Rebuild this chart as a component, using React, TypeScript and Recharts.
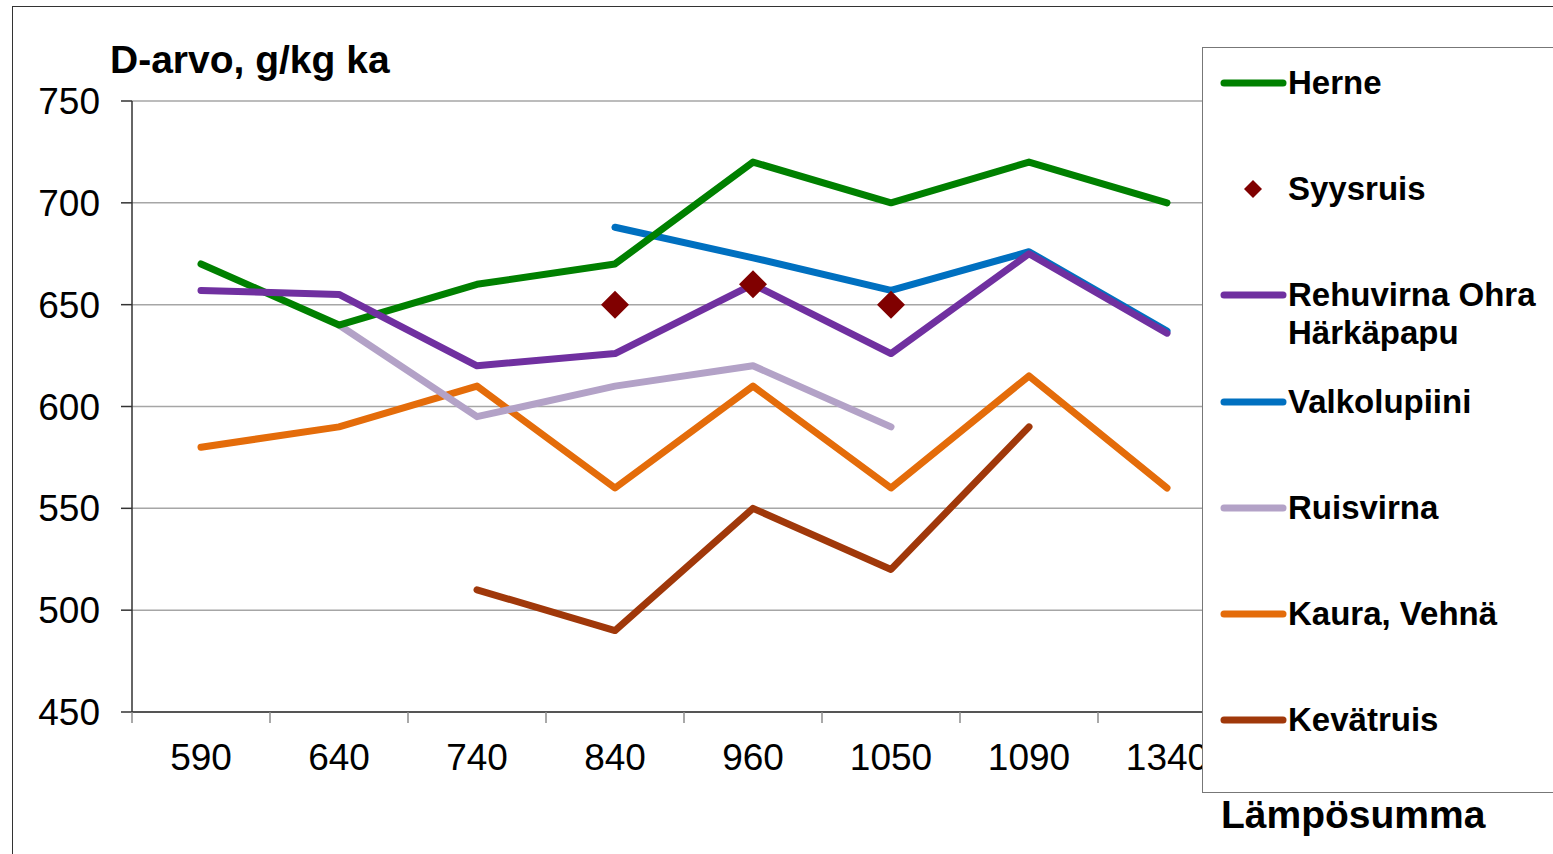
import React from 'react'
import { LineChart, Line, XAxis, YAxis, CartesianGrid } from 'recharts'

// Lämpösumma categories and D-arvo values
const categories = ['590', '640', '740', '840', '960', '1050', '1090', '1340']
const herne = [670, 640, 660, 670, 720, 700, 720, 700]
const syysruis = [null, null, null, 650, 660, 650, null, null]
const rehuvirna = [657, 655, 620, 626, 660, 626, 675, 636]
const valkolupiini = [null, null, null, 688, 673, 657, 676, 637]
const ruisvirna = [null, 640, 595, 610, 620, 590, null, null]
const kaura = [580, 590, 610, 560, 610, 560, 615, 560]
const kevatruis = [null, null, 510, 490, 550, 520, 590, null]
const yTicks = [450, 500, 550, 600, 650, 700, 750]

const series = [
  { key: 'herne', name: 'Herne', color: '#008000', values: herne, marker: false },
  { key: 'syysruis', name: 'Syysruis', color: '#800000', values: syysruis, marker: true },
  { key: 'rehuvirna', name: 'Rehuvirna Ohra Härkäpapu', color: '#7030a0', values: rehuvirna, marker: false },
  { key: 'valkolupiini', name: 'Valkolupiini', color: '#0070c0', values: valkolupiini, marker: false },
  { key: 'ruisvirna', name: 'Ruisvirna', color: '#b3a2c7', values: ruisvirna, marker: false },
  { key: 'kaura', name: 'Kaura, Vehnä', color: '#e46c0a', values: kaura, marker: false },
  { key: 'kevatruis', name: 'Kevätruis', color: '#a0380a', values: kevatruis, marker: false },
]

// drawing order (back to front)
const drawOrder = ['kevatruis', 'kaura', 'ruisvirna', 'valkolupiini', 'herne', 'rehuvirna', 'syysruis']

const data = categories.map((c, i) => {
  const row: any = { i, cat: c }
  series.forEach((s) => (row[s.key] = s.values[i]))
  return row
})

// tick values: category centres get labels, half steps get the tick marks
const xTicks: number[] = []
for (let i = 0; i <= categories.length; i++) {
  xTicks.push(i - 0.5)
  if (i < categories.length) xTicks.push(i)
}

const FONT = '"Liberation Sans", Arial, sans-serif'

const XTick = (props: any) => {
  const { x, y, payload } = props
  const v = payload.value
  if (Number.isInteger(v)) {
    return (
      <text x={x} y={y + 58} textAnchor="middle" fontSize={37} fontFamily={FONT} fill="#000">
        {categories[v]}
      </text>
    )
  }
  return <line x1={x} x2={x} y1={y} y2={y + 11} stroke="#8c8c8c" strokeWidth={1.5} />
}

const Diamond = (props: any) => {
  const { cx, cy, value } = props
  if (value == null || cx == null || cy == null) return <g />
  const r = 14
  return <path d={`M${cx},${cy - r}L${cx + r},${cy}L${cx},${cy + r}L${cx - r},${cy}Z`} fill="#800000" />
}

export default function App() {
  return (
    <div style={{ position: 'absolute', left: 0, top: 0, width: 1553, height: 854, background: '#fff', overflow: 'hidden' }}>
      <div
        style={{
          position: 'absolute',
          left: 12,
          top: 6,
          width: 1600,
          height: 900,
          borderLeft: '1.5px solid #333',
          borderTop: '1.5px solid #333',
        }}
      />
      <div style={{ position: 'absolute', left: 0, top: 0 }}>
        <LineChart width={1553} height={854} data={data} margin={{ top: 101, right: 317, bottom: 82, left: 0 }}>
          <CartesianGrid vertical={false} stroke="#a6a6a6" strokeWidth={1.5} />
          <XAxis
            dataKey="i"
            type="number"
            domain={[-0.5, categories.length - 0.5]}
            ticks={xTicks}
            interval={0}
            height={60}
            tickSize={0}
            tickMargin={0}
            tickLine={false}
            tick={<XTick />}
            stroke="#333"
            strokeWidth={1.5}
          />
          <YAxis
            type="number"
            domain={[450, 750]}
            ticks={yTicks}
            interval={0}
            width={132}
            tickSize={11}
            tickMargin={21}
            stroke="#333"
            strokeWidth={1.5}
            tick={{ fontSize: 37, fontFamily: FONT, fill: '#000' }}
          />
          {drawOrder.map((k) => {
            const s = series.find((x) => x.key === k)!
            return s.marker ? (
              <Line
                key={s.key}
                dataKey={s.key}
                stroke="none"
                dot={<Diamond />}
                activeDot={false}
                isAnimationActive={false}
              />
            ) : (
              <Line
                key={s.key}
                dataKey={s.key}
                stroke={s.color}
                strokeWidth={7}
                strokeLinejoin="round"
                strokeLinecap="round"
                dot={false}
                activeDot={false}
                isAnimationActive={false}
              />
            )
          })}
        </LineChart>
      </div>
      <div
        style={{
          position: 'absolute',
          left: 110,
          top: 37,
          fontFamily: FONT,
          fontWeight: 'bold',
          fontSize: 39,
          lineHeight: '46px',
          color: '#000',
          whiteSpace: 'nowrap',
        }}
      >
        D-arvo, g/kg ka
      </div>
      <div
        style={{
          position: 'absolute',
          left: 1202,
          top: 47,
          width: 400,
          height: 744,
          border: '1.5px solid #777',
          background: '#fff',
        }}
      />
      {series.map((s, i) => {
        const cy = 83 + i * 106.2
        return (
          <div key={s.key} style={{ position: 'absolute', left: 1220, top: cy - 19, height: 38 }}>
            <svg width={68} height={38} style={{ position: 'absolute', left: 0, top: 0 }}>
              {s.marker ? (
                <path d="M33,10L42,19L33,28L24,19Z" fill={s.color} />
              ) : (
                <line x1={4} x2={63} y1={19} y2={19} stroke={s.color} strokeWidth={7} strokeLinecap="round" />
              )}
            </svg>
            <div
              style={{
                position: 'absolute',
                left: 68,
                top: 0,
                width: 265,
                fontFamily: FONT,
                fontWeight: 'bold',
                fontSize: 33,
                lineHeight: '38px',
                color: '#000',
              }}
            >
              {s.name}
            </div>
          </div>
        )
      })}
      <div
        style={{
          position: 'absolute',
          left: 1221,
          top: 792,
          fontFamily: FONT,
          fontWeight: 'bold',
          fontSize: 39,
          lineHeight: '46px',
          color: '#000',
          whiteSpace: 'nowrap',
        }}
      >
        Lämpösumma
      </div>
    </div>
  )
}
